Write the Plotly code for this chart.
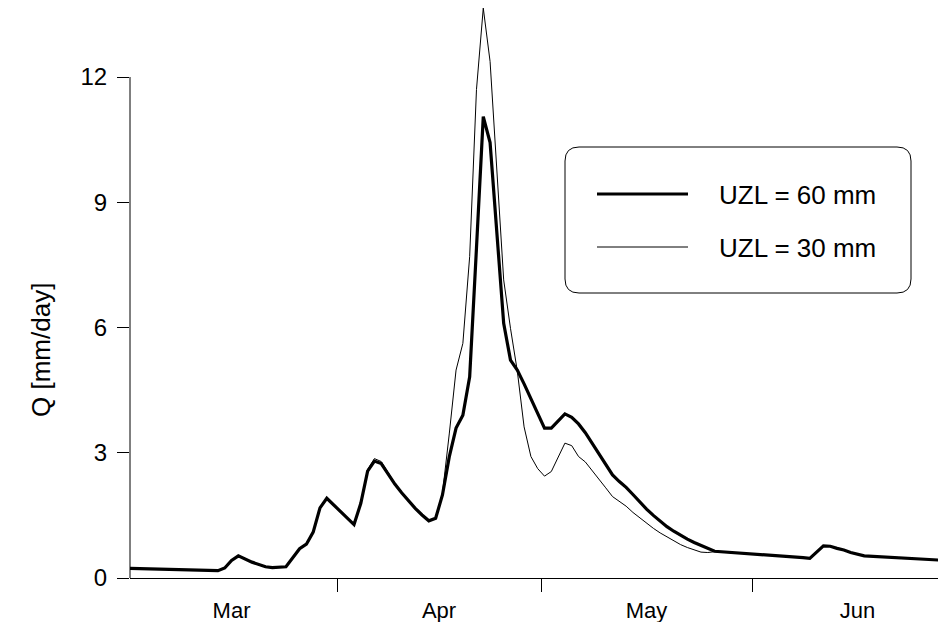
import plotly.graph_objects as go
import pandas as pd

# Daily discharge simulated with two upper-zone limits (UZL)
DATES = [
    "2001-03-01", "2001-03-14", "2001-03-15", "2001-03-16", "2001-03-17", "2001-03-19",
    "2001-03-21", "2001-03-22", "2001-03-24", "2001-03-26", "2001-03-27", "2001-03-28",
    "2001-03-29", "2001-03-30", "2001-04-03", "2001-04-04", "2001-04-05", "2001-04-06",
    "2001-04-07", "2001-04-08", "2001-04-09", "2001-04-10", "2001-04-11", "2001-04-12",
    "2001-04-13", "2001-04-14", "2001-04-15", "2001-04-16", "2001-04-17", "2001-04-18",
    "2001-04-19", "2001-04-20", "2001-04-21", "2001-04-22", "2001-04-23", "2001-04-24",
    "2001-04-25", "2001-04-26", "2001-04-27", "2001-04-28", "2001-04-29", "2001-04-30",
    "2001-05-01", "2001-05-02", "2001-05-03", "2001-05-04", "2001-05-05", "2001-05-06",
    "2001-05-07", "2001-05-08", "2001-05-09", "2001-05-10", "2001-05-11", "2001-05-12",
    "2001-05-13", "2001-05-14", "2001-05-15", "2001-05-16", "2001-05-17", "2001-05-18",
    "2001-05-19", "2001-05-20", "2001-05-21", "2001-05-22", "2001-05-23", "2001-05-24",
    "2001-05-25", "2001-05-26", "2001-06-08", "2001-06-09", "2001-06-11", "2001-06-12",
    "2001-06-13", "2001-06-14", "2001-06-15", "2001-06-17", "2001-06-28", "2001-06-29",
]

Q_UZL60 = [
    0.23, 0.175, 0.24, 0.42, 0.53, 0.38,
    0.27, 0.25, 0.27, 0.70, 0.81, 1.10,
    1.68, 1.91, 1.28, 1.79, 2.56, 2.80,
    2.74, 2.49, 2.25, 2.04, 1.85, 1.67,
    1.51, 1.37, 1.43, 1.99, 2.90, 3.59,
    3.90, 4.82, 7.90, 11.05, 10.43, 8.20,
    6.10, 5.22, 4.98, 4.65, 4.30, 3.95,
    3.59, 3.59, 3.76, 3.93, 3.85, 3.69,
    3.48, 3.23, 2.98, 2.72, 2.47, 2.31,
    2.17, 2.00, 1.82, 1.65, 1.50, 1.36,
    1.23, 1.12, 1.02, 0.93, 0.85, 0.78,
    0.70, 0.64, 0.49, 0.47, 0.77, 0.76,
    0.71, 0.67, 0.61, 0.53, 0.43, 0.43,
]

Q_UZL30 = [
    0.23, 0.175, 0.24, 0.42, 0.53, 0.38,
    0.27, 0.25, 0.27, 0.70, 0.81, 1.10,
    1.69, 1.93, 1.29, 1.81, 2.60, 2.86,
    2.79, 2.52, 2.27, 2.05, 1.86, 1.68,
    1.52, 1.38, 1.44, 2.03, 3.45, 4.98,
    5.62, 7.70, 11.70, 13.65, 12.37, 9.85,
    7.14, 5.98, 4.96, 3.62, 2.91, 2.62,
    2.44, 2.55, 2.90, 3.23, 3.17, 2.91,
    2.78, 2.58, 2.37, 2.16, 1.95, 1.83,
    1.72, 1.57, 1.44, 1.31, 1.19, 1.08,
    0.98, 0.89, 0.80, 0.73, 0.67, 0.62,
    0.61, 0.63, 0.49, 0.47, 0.77, 0.76,
    0.71, 0.67, 0.61, 0.53, 0.43, 0.43,
]

SERIES_NAMES = ["UZL = 60 mm", "UZL = 30 mm"]
Y_TICKS = [0, 3, 6, 9, 12]
Y_TITLE = "Q [mm/day]"
X_RANGE = ["2001-03-01 13:44", "2001-06-28 08:10"]

FONT = "Liberation Sans, Arial, Helvetica, sans-serif"

# daily means are placed at mid-day
x = pd.to_datetime(DATES) + pd.Timedelta(hours=12)

fig = go.Figure()
fig.add_trace(go.Scatter(x=x, y=Q_UZL30, mode="lines", name=SERIES_NAMES[1],
                         line=dict(color="black", width=1), showlegend=False))
fig.add_trace(go.Scatter(x=x, y=Q_UZL60, mode="lines", name=SERIES_NAMES[0],
                         line=dict(color="black", width=3.2), showlegend=False))

W, H = 938, 622
ML, MR, MT, MB = 130, 0, 0, 44
PW, PH = W - ML - MR, H - MT - MB


def px(xp):
    return (xp - ML) / PW


def py(yp):
    return (H - MB - yp) / PH


shapes = []
# left axis line, running only up to the top tick
shapes.append(dict(type="line", xref="paper", yref="y", x0=0, x1=0, y0=0, y1=Y_TICKS[-1],
                   line=dict(color="black", width=1)))

# rounded legend frame
x0, x1, y0, y1, r = 565, 911, 147, 293, 14
rx, ry = r / PW, r / PH
X0, X1, Y0, Y1 = px(x0), px(x1), py(y1), py(y0)
path = (f"M {X0 + rx},{Y0} L {X1 - rx},{Y0} Q {X1},{Y0} {X1},{Y0 + ry} "
        f"L {X1},{Y1 - ry} Q {X1},{Y1} {X1 - rx},{Y1} L {X0 + rx},{Y1} "
        f"Q {X0},{Y1} {X0},{Y1 - ry} L {X0},{Y0 + ry} Q {X0},{Y0} {X0 + rx},{Y0} Z")
shapes.append(dict(type="path", xref="paper", yref="paper", path=path,
                   line=dict(color="black", width=1), fillcolor="white", layer="above"))

annotations = []
for name, lw, yy in [(SERIES_NAMES[0], 3.2, 194), (SERIES_NAMES[1], 1, 247)]:
    shapes.append(dict(type="line", xref="paper", yref="paper", x0=px(597), x1=px(688),
                       y0=py(yy), y1=py(yy), line=dict(color="black", width=lw), layer="above"))
    annotations.append(dict(text=name, xref="paper", yref="paper", x=px(717), y=py(yy + 1),
                            xanchor="left", yanchor="middle", showarrow=False,
                            font=dict(family=FONT, size=26, color="black")))

annotations.append(dict(text=Y_TITLE, xref="paper", yref="paper", x=px(41), y=py(350),
                        xanchor="center", yanchor="middle", textangle=-90, showarrow=False,
                        font=dict(family=FONT, size=26, color="black")))

fig.update_layout(
    width=W, height=H,
    margin=dict(l=ML, r=MR, t=MT, b=MB),
    paper_bgcolor="white", plot_bgcolor="white",
    font=dict(family=FONT, color="black"),
    shapes=shapes, annotations=annotations,
    xaxis=dict(type="date", range=X_RANGE, dtick="M1", tick0="2001-03-01",
               ticklabelmode="period", tickformat="%b",
               ticks="outside", ticklen=13, tickwidth=1, tickcolor="black",
               showline=True, linecolor="black", linewidth=1,
               showgrid=False, zeroline=False, tickfont=dict(size=22),
               ticklabelstandoff=0),
    yaxis=dict(range=[0, 578 / 41.75], tickvals=Y_TICKS,
               ticks="outside", ticklen=12, tickwidth=1, tickcolor="black",
               showline=False, showgrid=False, zeroline=False,
               tickfont=dict(size=24), ticklabelstandoff=5),
)

fig.write_html("out.html")
